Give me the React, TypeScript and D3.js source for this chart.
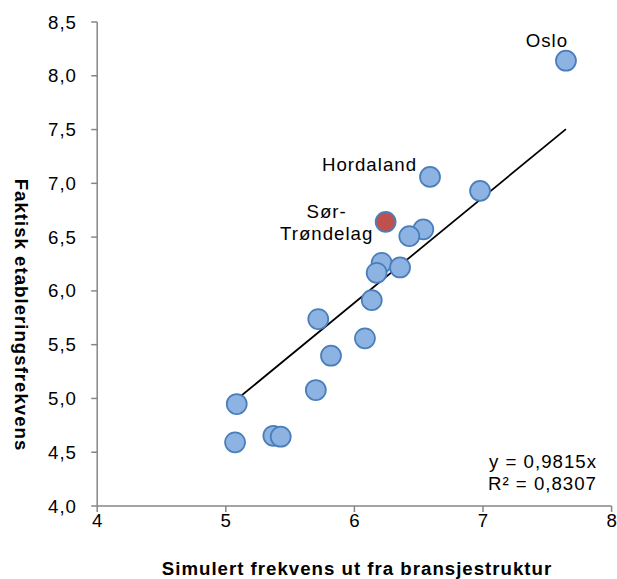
import React from "react";
import * as d3 from "d3";

const simulert: number[] = [7.645, 6.588, 6.977, 6.243, 6.536, 6.427, 6.212, 6.173, 6.355, 6.135, 5.719, 6.082, 5.818, 5.70, 5.085, 5.072, 5.37, 5.427];
const faktisk: number[] = [8.14, 7.06, 6.93, 6.642, 6.572, 6.509, 6.261, 6.168, 6.218, 5.914, 5.738, 5.559, 5.397, 5.078, 4.948, 4.592, 4.653, 4.644];
const highlighted: number[] = [3];
const pointLabels: { index: number; lines: string[] }[] = [
  { index: 0, lines: ["Oslo"] },
  { index: 1, lines: ["Hordaland"] },
  { index: 3, lines: ["Sør-", "Trøndelag"] },
];
const xTicks: number[] = [4, 5, 6, 7, 8];
const yTicks: number[] = [4.0, 4.5, 5.0, 5.5, 6.0, 6.5, 7.0, 7.5, 8.0, 8.5];
const slope = 0.9815;
const r2 = 0.8307;

const W = 617;
const H = 579;
const FONT = "'Liberation Sans', Arial, sans-serif";
const FS = 18.67;
const LS = "1px";

export default function App() {
  const x = d3.scaleLinear().domain([4, 8]).range([97.2, 611.6]);
  const y = d3.scaleLinear().domain([4, 8.5]).range([506, 22]);
  const fmtY = (v: number) => d3.format(".1f")(v).replace(".", ",");
  const fmtC = (v: number) => String(v).replace(".", ",");
  const xmin = d3.min(simulert) as number;
  const xmax = d3.max(simulert) as number;
  const line = d3.line<number>().x((d) => x(d)).y((d) => y(slope * d));
  const axisColor = "#868686";

  const labelPos = (idx: number) => {
    const px = x(simulert[idx]);
    const py = y(faktisk[idx]);
    if (idx === 0) return { x: px - 19, y: py - 14, anchor: "middle" };
    if (idx === 1) return { x: px - 13, y: py - 6, anchor: "end" };
    return { x: px - 59, y: py - 4, anchor: "middle" };
  };

  return (
    <svg width={W} height={H} style={{ position: "absolute", left: 0, top: 0 }} fontFamily={FONT} letterSpacing={LS}>
      <rect width={W} height={H} fill="#fff" />
      {/* axes */}
      <line x1={x(4)} x2={x(4)} y1={y(8.5)} y2={y(4)} stroke={axisColor} strokeWidth={1.5} />
      <line x1={x(4)} x2={x(8)} y1={y(4)} y2={y(4)} stroke={axisColor} strokeWidth={1.5} />
      {yTicks.map((t) => (
        <g key={"y" + t}>
          <line x1={x(4) - 6} x2={x(4)} y1={y(t)} y2={y(t)} stroke={axisColor} strokeWidth={1.5} />
          <text x={77} y={y(t)} dy="0.35em" textAnchor="end" fontSize={FS} fill="#000">
            {fmtY(t)}
          </text>
        </g>
      ))}
      {xTicks.map((t) => (
        <g key={"x" + t}>
          <line x1={x(t)} x2={x(t)} y1={y(4)} y2={y(4) + 6} stroke={axisColor} strokeWidth={1.5} />
          <text x={x(t) + 0.5} y={527} textAnchor="middle" fontSize={FS} fill="#000">
            {t}
          </text>
        </g>
      ))}
      {/* trend line */}
      <path d={line([xmin, xmax]) || ""} stroke="#000" strokeWidth={1.75} fill="none" />
      {/* points */}
      {simulert.map((sx, i) => (
        <circle
          key={i}
          cx={x(sx)}
          cy={y(faktisk[i])}
          r={10}
          fill={highlighted.includes(i) ? "#C0504D" : "#8DB3E2"}
          stroke="#4A7EBB"
          strokeWidth={1.75}
        />
      ))}
      {/* labels */}
      {pointLabels.map((l) => {
        const p = labelPos(l.index);
        return (
          <text key={l.index} x={p.x} y={p.y} textAnchor={p.anchor as any} fontSize={FS} fill="#000">
            {l.lines.map((s, k) => (
              <tspan key={k} x={p.x} dy={k === 0 ? 0 : 22}>
                {s}
              </tspan>
            ))}
          </text>
        );
      })}
      {/* equation */}
      <text x={597} y={468} textAnchor="end" fontSize={FS} fill="#000">
        {"y = " + fmtC(slope) + "x"}
      </text>
      <text x={597} y={490} textAnchor="end" fontSize={FS} fill="#000">
        {"R² = " + fmtC(r2)}
      </text>
      {/* axis titles */}
      <text x={357} y={575} textAnchor="middle" fontSize={FS} fontWeight="bold" fill="#000">
        Simulert frekvens ut fra bransjestruktur
      </text>
      <text transform="translate(15,315) rotate(90)" textAnchor="middle" fontSize={FS} fontWeight="bold" fill="#000">
        Faktisk etableringsfrekvens
      </text>
    </svg>
  );
}
